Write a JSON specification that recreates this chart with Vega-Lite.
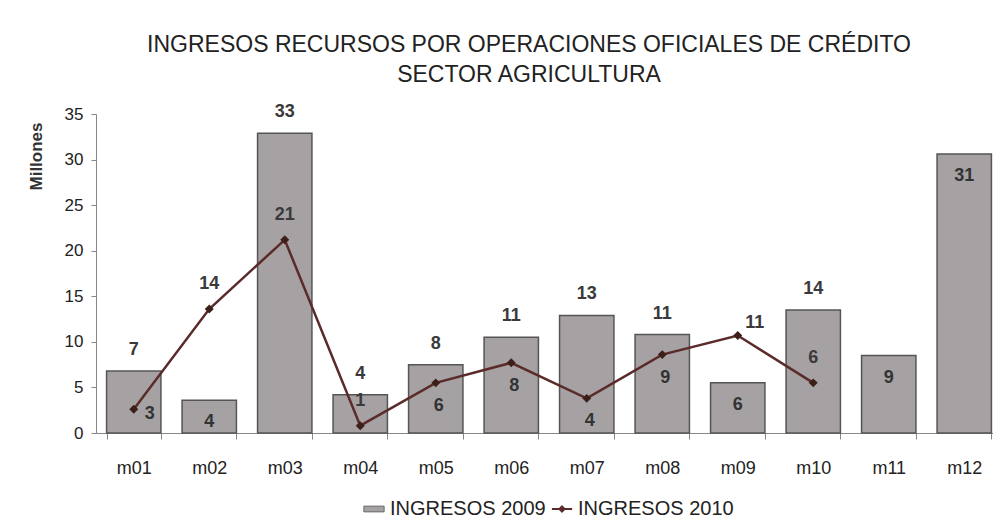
{
  "$schema": "https://vega.github.io/schema/vega-lite/v6.json",
  "autosize": {"type": "none"},
  "padding": {"left": 96, "top": 114, "right": 0, "bottom": 97},
  "width": 906,
  "height": 319,
  "background": "white",
  "title": {
    "text": ["INGRESOS RECURSOS POR OPERACIONES OFICIALES DE CRÉDITO", "SECTOR AGRICULTURA"],
    "fontSize": 23,
    "fontWeight": "normal",
    "color": "#222222",
    "lineHeight": 30,
    "offset": 16,
    "anchor": "middle",
    "dx": -20
  },
  "data": {
    "values": [
      {"mes": "m01", "v2009": 6.8, "v2010": 2.6},
      {"mes": "m02", "v2009": 3.6, "v2010": 13.6},
      {"mes": "m03", "v2009": 32.9, "v2010": 21.2},
      {"mes": "m04", "v2009": 4.2, "v2010": 0.8},
      {"mes": "m05", "v2009": 7.5, "v2010": 5.5},
      {"mes": "m06", "v2009": 10.5, "v2010": 7.7},
      {"mes": "m07", "v2009": 12.9, "v2010": 3.8},
      {"mes": "m08", "v2009": 10.8, "v2010": 8.6},
      {"mes": "m09", "v2009": 5.5, "v2010": 10.7},
      {"mes": "m10", "v2009": 13.5, "v2010": 5.5},
      {"mes": "m11", "v2009": 8.5, "v2010": null},
      {"mes": "m12", "v2009": 30.6, "v2010": null}
    ]
  },
  "encoding": {
    "x": {
      "field": "mes", "type": "nominal", "sort": null,
      "scale": {"paddingInner": 0.28, "paddingOuter": 0.14},
      "axis": {
        "title": null, "labelAngle": 0, "tickBand": "extent", "tickSize": 6,
        "labelPadding": 20, "labelFontSize": 18, "labelColor": "#222222",
        "domainColor": "#888888", "tickColor": "#888888", "grid": false
      }
    }
  },
  "layer": [
    {
      "mark": {"type": "bar", "stroke": "#555555", "strokeWidth": 1.5},
      "encoding": {
        "y": {
          "field": "v2009", "type": "quantitative",
          "scale": {"domain": [0, 35], "nice": false},
          "axis": {
            "title": "Millones", "titleFontSize": 17, "titleFontWeight": "bold",
            "titleColor": "#333333", "titleX": -60, "titleY": 42, "titleAlign": "center", "titleBaseline": "middle", "titleAngle": -90,
            "values": [0, 5, 10, 15, 20, 25, 30, 35],
            "labelFontSize": 17, "labelColor": "#222222", "labelPadding": 8,
            "tickSize": 5, "grid": false, "domainColor": "#888888", "tickColor": "#888888"
          }
        },
        "fill": {
          "datum": "INGRESOS 2009",
          "scale": {"range": ["#a6a2a4"]},
          "legend": {
            "title": null, "orient": "bottom", "offset": 22,
            "symbolType": "M-1.6,-0.45H1.6V0.45H-1.6Z", "symbolSize": 160,
            "symbolStrokeColor": "#666666", "symbolStrokeWidth": 1,
            "labelFontSize": 20, "labelColor": "#222222", "labelOffset": 6
          }
        }
      }
    },
    {
      "transform": [{"filter": "isValid(datum.v2010)"}],
      "mark": {"type": "line", "strokeWidth": 2.5},
      "encoding": {
        "y": {"field": "v2010", "type": "quantitative"},
        "stroke": {
          "datum": "INGRESOS 2010",
          "scale": {"range": ["#5b2b2b"]},
          "legend": {
            "title": null, "orient": "bottom", "offset": 22,
            "symbolType": "M-1.6,0H1.6M0,-0.4L0.4,0L0,0.4L-0.4,0Z", "symbolSize": 160,
            "symbolStrokeWidth": 2, "symbolFillColor": "#5b2b2b",
            "labelFontSize": 20, "labelColor": "#222222", "labelOffset": 6
          }
        }
      }
    },
    {
      "transform": [{"filter": "isValid(datum.v2010)"}],
      "mark": {"type": "point", "shape": "diamond", "filled": true, "color": "#3d1f1a", "size": 80, "opacity": 1},
      "encoding": {"y": {"field": "v2010", "type": "quantitative"}}
    },
    {
      "transform": [{"filter": {"field": "mes", "oneOf": ["m01", "m03", "m04", "m05", "m06", "m07", "m08", "m10"]}}],
      "mark": {"type": "text", "fontSize": 18, "fontWeight": "bold", "color": "#3a3a3a", "baseline": "middle", "dy": -21},
      "encoding": {"y": {"field": "v2009", "type": "quantitative"}, "text": {"field": "v2009", "format": ".0f"}}
    },
    {
      "transform": [{"filter": {"field": "mes", "oneOf": ["m02", "m09", "m11", "m12"]}}],
      "mark": {"type": "text", "fontSize": 18, "fontWeight": "bold", "color": "#333333", "baseline": "middle", "dy": 22},
      "encoding": {"y": {"field": "v2009", "type": "quantitative"}, "text": {"field": "v2009", "format": ".0f"}}
    },
    {
      "transform": [{"filter": {"field": "mes", "oneOf": ["m02", "m03", "m04", "m10"]}}],
      "mark": {"type": "text", "fontSize": 18, "fontWeight": "bold", "color": "#3a3a3a", "baseline": "middle", "dy": -25},
      "encoding": {"y": {"field": "v2010", "type": "quantitative"}, "text": {"field": "v2010", "format": ".0f"}}
    },
    {
      "transform": [{"filter": {"field": "mes", "oneOf": ["m05", "m06", "m07", "m08"]}}],
      "mark": {"type": "text", "fontSize": 18, "fontWeight": "bold", "color": "#333333", "baseline": "middle", "dy": 23, "dx": 3},
      "encoding": {"y": {"field": "v2010", "type": "quantitative"}, "text": {"field": "v2010", "format": ".0f"}}
    },
    {
      "transform": [{"filter": {"field": "mes", "oneOf": ["m01"]}}],
      "mark": {"type": "text", "fontSize": 18, "fontWeight": "bold", "color": "#333333", "baseline": "middle", "dy": 5, "dx": 16},
      "encoding": {"y": {"field": "v2010", "type": "quantitative"}, "text": {"field": "v2010", "format": ".0f"}}
    },
    {
      "transform": [{"filter": {"field": "mes", "oneOf": ["m09"]}}],
      "mark": {"type": "text", "fontSize": 18, "fontWeight": "bold", "color": "#3a3a3a", "baseline": "middle", "dy": -12, "dx": 17},
      "encoding": {"y": {"field": "v2010", "type": "quantitative"}, "text": {"field": "v2010", "format": ".0f"}}
    }
  ],
  "config": {
    "font": "Liberation Sans",
    "view": {"stroke": null},
    "legend": {
      "layout": {"bottom": {"anchor": "middle", "direction": "horizontal", "center": true, "margin": 6}}
    }
  }
}
